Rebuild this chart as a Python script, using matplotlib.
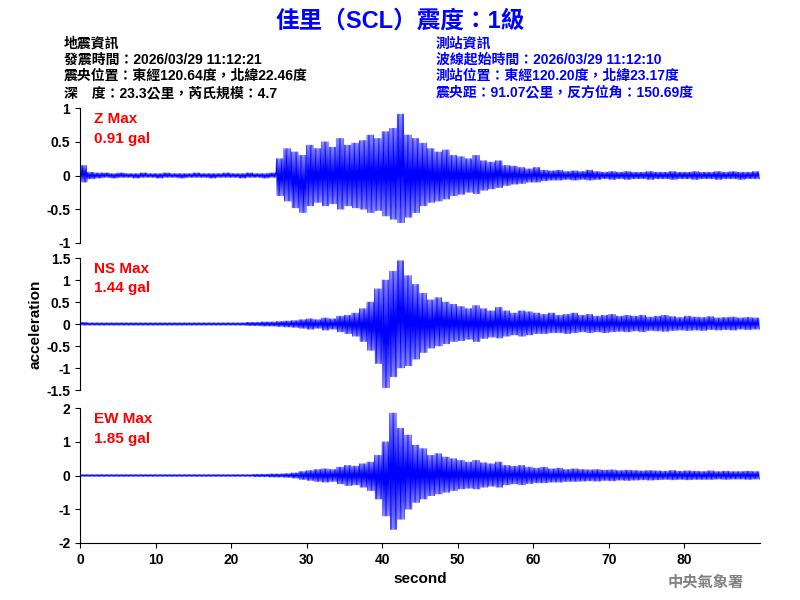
import numpy as np
import matplotlib.pyplot as plt

plt.rcParams['font.family'] = ['Liberation Sans', 'Noto Sans CJK TC', 'DejaVu Sans']

# per-second upper / lower envelope of each trace (gal), read from the record
z_up = [0.15,0.05,0.04,0.04,0.03,0.04,0.03,0.03,0.04,0.03, 0.03,0.04,0.03,0.03,0.03,0.04,0.03,0.03,0.03,0.04,
        0.03,0.03,0.04,0.03,0.03,0.04,0.25,0.40,0.35,0.30, 0.45,0.40,0.50,0.42,0.55,0.45,0.48,0.52,0.60,0.55,
        0.65,0.70,0.91,0.60,0.55,0.48,0.40,0.35,0.38,0.30, 0.28,0.25,0.30,0.22,0.20,0.22,0.15,0.14,0.12,0.10,
        0.12,0.08,0.07,0.08,0.06,0.07,0.06,0.08,0.06,0.05, 0.06,0.05,0.06,0.05,0.05,0.06,0.05,0.05,0.06,0.05,
        0.05,0.06,0.05,0.05,0.06,0.05,0.06,0.05,0.05,0.06]
z_lo = [-0.10,-0.05,-0.04,-0.03,-0.04,-0.03,-0.03,-0.04,-0.03,-0.03, -0.04,-0.03,-0.03,-0.04,-0.03,-0.03,-0.03,-0.04,-0.03,-0.03,
        -0.03,-0.04,-0.03,-0.03,-0.04,-0.03,-0.30,-0.38,-0.48,-0.55, -0.45,-0.40,-0.45,-0.42,-0.50,-0.45,-0.48,-0.50,-0.55,-0.52,
        -0.60,-0.65,-0.70,-0.62,-0.55,-0.45,-0.40,-0.38,-0.35,-0.30, -0.28,-0.25,-0.27,-0.22,-0.20,-0.18,-0.15,-0.13,-0.12,-0.10,
        -0.10,-0.08,-0.07,-0.07,-0.06,-0.07,-0.06,-0.07,-0.06,-0.05, -0.06,-0.05,-0.06,-0.05,-0.05,-0.06,-0.05,-0.05,-0.06,-0.05,
        -0.05,-0.06,-0.05,-0.05,-0.06,-0.05,-0.05,-0.06,-0.05,-0.05]
ns_up = [0.04,0.03,0.03,0.03,0.03,0.03,0.03,0.03,0.03,0.03, 0.03,0.03,0.03,0.03,0.03,0.03,0.03,0.03,0.03,0.03,
         0.03,0.03,0.04,0.04,0.05,0.05,0.06,0.07,0.08,0.10, 0.12,0.10,0.14,0.12,0.18,0.20,0.25,0.35,0.50,0.80,
         1.00,1.20,1.44,1.10,0.90,0.70,0.55,0.60,0.50,0.45, 0.40,0.35,0.42,0.35,0.30,0.38,0.30,0.25,0.30,0.28,
         0.25,0.22,0.25,0.20,0.22,0.25,0.20,0.22,0.18,0.20, 0.22,0.18,0.20,0.18,0.20,0.16,0.18,0.20,0.17,0.15,
         0.18,0.16,0.15,0.17,0.14,0.15,0.16,0.14,0.15,0.14]
ns_lo = [-0.03,-0.03,-0.03,-0.03,-0.03,-0.03,-0.03,-0.03,-0.03,-0.03, -0.03,-0.03,-0.03,-0.03,-0.03,-0.03,-0.03,-0.03,-0.03,-0.03,
         -0.03,-0.03,-0.04,-0.04,-0.05,-0.05,-0.06,-0.07,-0.08,-0.10, -0.12,-0.10,-0.14,-0.12,-0.18,-0.22,-0.28,-0.40,-0.60,-0.90,
         -1.45,-1.20,-1.00,-0.95,-0.80,-0.65,-0.55,-0.50,-0.45,-0.40, -0.38,-0.35,-0.40,-0.33,-0.30,-0.32,-0.28,-0.25,-0.28,-0.25,
         -0.22,-0.22,-0.20,-0.20,-0.22,-0.20,-0.18,-0.20,-0.18,-0.20, -0.18,-0.17,-0.18,-0.16,-0.18,-0.15,-0.16,-0.17,-0.15,-0.14,
         -0.15,-0.14,-0.15,-0.13,-0.14,-0.13,-0.14,-0.12,-0.13,-0.12]
ew_up = [0.03,0.03,0.03,0.03,0.03,0.03,0.03,0.03,0.03,0.03, 0.03,0.03,0.03,0.03,0.03,0.03,0.03,0.03,0.03,0.03,
         0.03,0.03,0.03,0.04,0.04,0.05,0.05,0.06,0.08,0.12, 0.15,0.18,0.20,0.18,0.25,0.30,0.28,0.35,0.40,0.60,
         1.00,1.85,1.40,1.20,0.90,0.80,0.60,0.65,0.55,0.50, 0.45,0.40,0.45,0.38,0.35,0.40,0.30,0.28,0.30,0.25,
         0.22,0.25,0.20,0.22,0.18,0.20,0.18,0.17,0.18,0.16, 0.17,0.15,0.16,0.15,0.14,0.15,0.14,0.13,0.15,0.13,
         0.14,0.13,0.12,0.14,0.12,0.13,0.12,0.12,0.13,0.12]
ew_lo = [-0.03,-0.03,-0.03,-0.03,-0.03,-0.03,-0.03,-0.03,-0.03,-0.03, -0.03,-0.03,-0.03,-0.03,-0.03,-0.03,-0.03,-0.03,-0.03,-0.03,
         -0.03,-0.03,-0.03,-0.04,-0.04,-0.05,-0.05,-0.06,-0.08,-0.12, -0.15,-0.18,-0.20,-0.18,-0.25,-0.30,-0.28,-0.35,-0.45,-0.70,
         -1.20,-1.60,-1.30,-1.00,-0.80,-0.70,-0.60,-0.55,-0.50,-0.45, -0.40,-0.38,-0.40,-0.35,-0.32,-0.35,-0.28,-0.25,-0.28,-0.24,
         -0.22,-0.22,-0.20,-0.20,-0.18,-0.18,-0.17,-0.16,-0.17,-0.15, -0.16,-0.14,-0.15,-0.14,-0.13,-0.14,-0.13,-0.12,-0.13,-0.12,
         -0.13,-0.12,-0.12,-0.12,-0.11,-0.12,-0.11,-0.11,-0.12,-0.11]

labels = ['Z Max\n0.91 gal', 'NS Max\n1.44 gal', 'EW Max\n1.85 gal']
ylims = [1, 1.5, 2]
yticks = [[-1, -0.5, 0, 0.5, 1], [-1.5, -1, -0.5, 0, 0.5, 1, 1.5], [-2, -1, 0, 1, 2]]

def zigzag(up, lo, n=12):
    # alternate between the upper and lower envelope value n times per second
    t, v = [], []
    for i in range(len(up)):
        for k in range(n):
            t.append(i + k / n)
            v.append(up[i] if k % 2 == 0 else lo[i])
    return t, v

fig = plt.figure(figsize=(8, 6), dpi=100)
boxes = [(0.10, 0.595, 0.85, 0.225), (0.10, 0.35, 0.85, 0.22), (0.10, 0.095, 0.85, 0.225)]
traces = [(z_up, z_lo), (ns_up, ns_lo), (ew_up, ew_lo)]
for i, (box, (up, lo)) in enumerate(zip(boxes, traces)):
    ax = fig.add_axes(box)
    t, v = zigzag(up, lo)
    ax.plot(t, v, color='blue', lw=0.5)
    ax.set_xlim(0, 90)
    ax.set_ylim(-ylims[i], ylims[i])
    ax.set_yticks(yticks[i])
    ax.set_yticklabels([f'{y:g}' for y in yticks[i]], fontsize=10, fontweight='bold')
    for s in ['top', 'right']:
        ax.spines[s].set_visible(False)
    if i < 2:
        ax.spines['bottom'].set_visible(False)
        ax.set_xticks([])
    else:
        ax.set_xticks(range(0, 90, 10))
        ax.set_xticklabels([str(x) for x in range(0, 90, 10)], fontsize=10, fontweight='bold')
        ax.set_xlabel('second', fontsize=11, fontweight='bold')
    ax.text(0.02, 0.97, labels[i], transform=ax.transAxes, color='red', fontsize=11,
            fontweight='bold', va='top', linespacing=1.5)

fig.text(0.035, 0.46, 'acceleration', rotation=90, fontsize=11, fontweight='bold', va='center')

fig.text(0.5, 0.965, '佳里（SCL）震度：1級', color='blue', fontsize=17, fontweight='bold',
         ha='center', va='center')
left = ['地震資訊', '發震時間：2026/03/29 11:12:21', '震央位置：東經120.64度，北緯22.46度',
        '深　度：23.3公里，芮氏規模：4.7']
right = ['測站資訊', '波線起始時間：2026/03/29 11:12:10', '測站位置：東經120.20度，北緯23.17度',
         '震央距：91.07公里，反方位角：150.69度']
for j, (a, b) in enumerate(zip(left, right)):
    y = 0.928 - j * 0.0275
    fig.text(0.08, y, a, fontsize=10, fontweight='bold', va='center')
    fig.text(0.545, y, b, fontsize=10, fontweight='bold', va='center', color='blue')

fig.text(0.93, 0.03, '中央氣象署', color='gray', fontsize=11, fontweight='bold', ha='right', va='center')

fig.savefig('out.png')
